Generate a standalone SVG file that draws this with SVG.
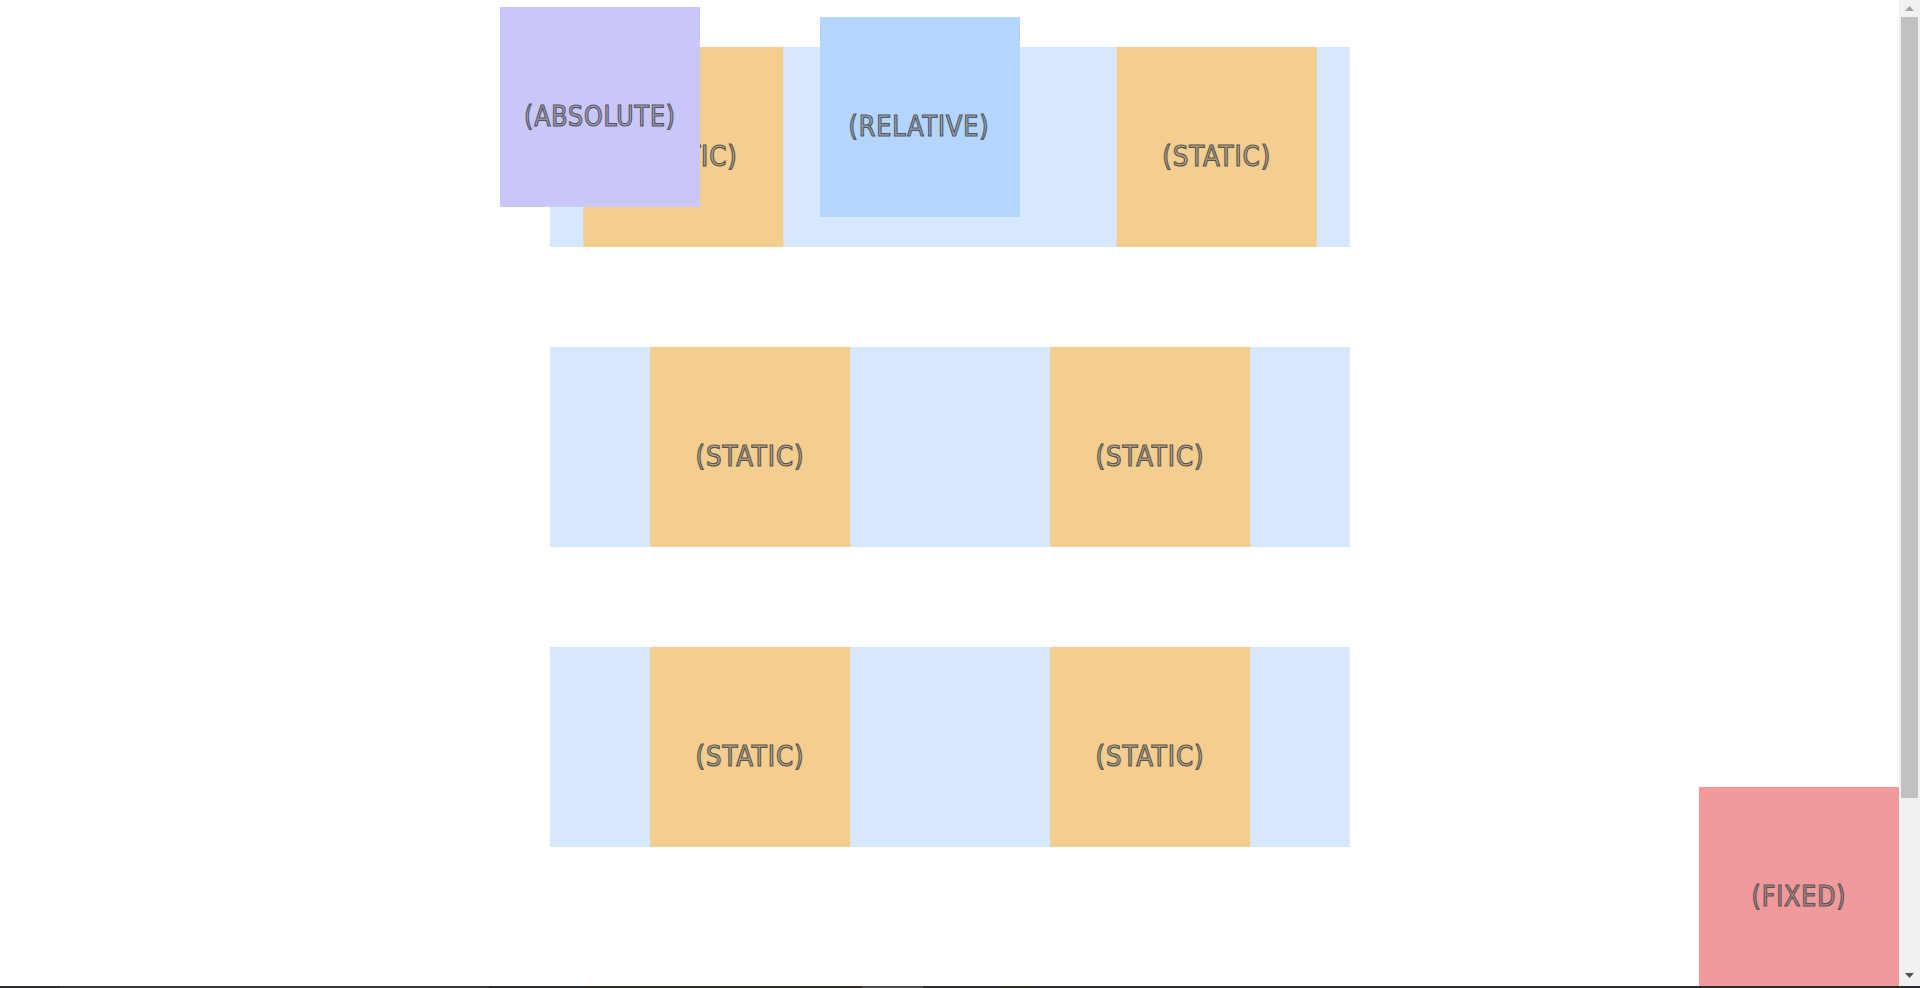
<svg xmlns="http://www.w3.org/2000/svg" width="1920" height="988" viewBox="0 0 1920 988">
<style>
.ct{fill:#d7e8fc}
.st{fill:#f3ce8f}
.ab{fill:#c9c7fa}
.rl{fill:#b3d5fe}
.fx{fill:#f09a9c}
.lb{font-family:"DejaVu Sans Condensed","DejaVu Sans","Liberation Sans",sans-serif;font-stretch:condensed;font-size:29px;text-anchor:middle;fill:rgba(80,80,80,0.3);stroke:#555555;stroke-width:1.2;letter-spacing:1px}
</style>
<rect x="0" y="0" width="1920" height="988" fill="#ffffff"/>
<g id="row1">
<rect class="ct" x="550" y="47" width="800" height="200"/>
</g>
<g id="row1-static1">
<rect class="st" x="583.33" y="47" width="200" height="200"/>
<text class="lb" x="683.33" y="166" textLength="109" lengthAdjust="spacingAndGlyphs">(STATIC)</text>
</g>
<g id="row1-static2">
<rect class="st" x="1116.67" y="47" width="200" height="200"/>
<text class="lb" x="1216.67" y="166" textLength="109" lengthAdjust="spacingAndGlyphs">(STATIC)</text>
</g>
<g id="relative">
<rect class="rl" x="820" y="17" width="200" height="200"/>
<text class="lb" x="919" y="136" textLength="141" lengthAdjust="spacingAndGlyphs">(RELATIVE)</text>
</g>
<g id="absolute">
<rect class="ab" x="500" y="7" width="200" height="200"/>
<text class="lb" x="600" y="126" textLength="152" lengthAdjust="spacingAndGlyphs">(ABSOLUTE)</text>
</g>
<g id="row2">
<rect class="ct" x="550" y="347" width="800" height="200"/>
</g>
<g id="row2-static1">
<rect class="st" x="650" y="347" width="200" height="200"/>
<text class="lb" x="750" y="466" textLength="109" lengthAdjust="spacingAndGlyphs">(STATIC)</text>
</g>
<g id="row2-static2">
<rect class="st" x="1050" y="347" width="200" height="200"/>
<text class="lb" x="1150" y="466" textLength="109" lengthAdjust="spacingAndGlyphs">(STATIC)</text>
</g>
<g id="row3">
<rect class="ct" x="550" y="647" width="800" height="200"/>
</g>
<g id="row3-static1">
<rect class="st" x="650" y="647" width="200" height="200"/>
<text class="lb" x="750" y="766" textLength="109" lengthAdjust="spacingAndGlyphs">(STATIC)</text>
</g>
<g id="row3-static2">
<rect class="st" x="1050" y="647" width="200" height="200"/>
<text class="lb" x="1150" y="766" textLength="109" lengthAdjust="spacingAndGlyphs">(STATIC)</text>
</g>
<g id="fixed">
<rect class="fx" x="1699" y="787" width="200" height="199"/>
<text class="lb" x="1799" y="906" textLength="95" lengthAdjust="spacingAndGlyphs">(FIXED)</text>
</g>
<g id="scrollbar">
<rect x="1899" y="0" width="21" height="986" fill="#f1f1f1"/>
<rect x="1901" y="17" width="17" height="781" fill="#c1c1c1"/>
<polygon points="1905,11 1914,11 1909.5,6" fill="#a3a3a3"/>
<polygon points="1905,973 1914,973 1909.5,978" fill="#505050"/>
</g>
<g id="bottom-strip">
<rect x="0" y="986" width="1920" height="2" fill="#2b2d30"/>
<rect x="60" y="986" width="429" height="2" fill="#3b3b3b"/>
<rect x="587" y="986" width="275" height="2" fill="#302a20"/>
<rect x="862" y="986" width="61" height="2" fill="#4d4d4d"/>
<rect x="1000" y="986" width="35" height="2" fill="#302a20"/>
</g>
</svg>
